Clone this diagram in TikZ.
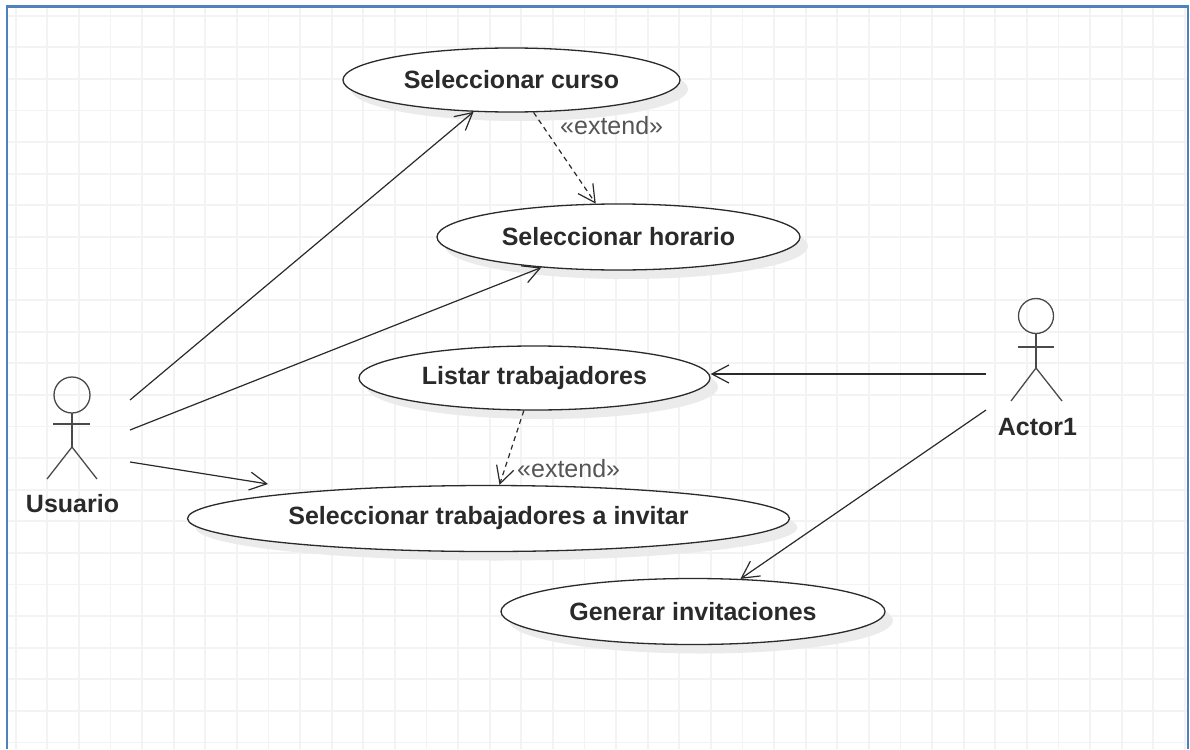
\documentclass[tikz,border=0pt]{standalone}
\usepackage{fontspec}
\setmainfont{Liberation Sans}
\usetikzlibrary{shapes.geometric,arrows.meta,shadows}
\definecolor{gridc}{HTML}{F3F3F3}
\definecolor{framec}{HTML}{4F81BD}
\definecolor{ink}{HTML}{2A2A2A}
\definecolor{shadowc}{HTML}{EBEBEB}
\definecolor{labelc}{HTML}{555555}
\begin{document}
\begin{tikzpicture}[x=1pt,y=-1pt,
  usecase/.style={ellipse, draw=ink, line width=1.3pt, fill=white, inner sep=0pt,
    font=\fontsize{25}{30}\selectfont\bfseries, text=ink,
    general shadow={shadow xshift=8pt, shadow yshift=-9pt, fill=shadowc}},
  actorlabel/.style={font=\fontsize{25}{30}\selectfont\bfseries, text=ink, inner sep=0pt},
  stereo/.style={font=\fontsize{25}{30}\selectfont, text=labelc, inner sep=0pt, anchor=base west},
  actorline/.style={draw=ink!85, line width=1.3pt},
  assoc/.style={draw=ink, line width=1.2pt, -{Straight Barb[length=17pt,width=18pt,line width=1.2pt]}},
  extendline/.style={assoc, dash pattern=on 5pt off 4pt}]
\useasboundingbox (0,0) rectangle (1190,749);
\fill[white] (0,0) rectangle (1190,749);

% background grid
\foreach \i in {0,...,37}
  \draw[gridc, line width=1.8pt] ({15.7+31.6*\i},7) -- ({15.7+31.6*\i},749);
\foreach \j in {0,...,23}
  \draw[gridc, line width=1.8pt] (8,{15.7+31.6*\j}) -- (1187,{15.7+31.6*\j});

% frame
\draw[framec, line width=2.2pt] (7,749) -- (7,6.5) -- (1188,6.5) -- (1188,749);

% use cases
\node[usecase, minimum width=337pt, minimum height=64pt] (curso)   at (511.5,80)    {Seleccionar curso};
\node[usecase, minimum width=363pt, minimum height=66pt] (horario) at (618.5,237)   {Seleccionar horario};
\node[usecase, minimum width=351pt, minimum height=64pt] (listar)  at (534.5,378)   {Listar trabajadores};
\node[usecase, minimum width=602pt, minimum height=66pt] (invitar) at (488.5,518.5) {Seleccionar trabajadores a invitar};
\node[usecase, minimum width=384pt, minimum height=66pt] (generar) at (693,611.5)   {Generar invitaciones};

% actor Usuario
\draw[actorline] (72,395) circle (18);
\draw[actorline] (72,413) -- (72,447);
\draw[actorline] (53,424) -- (90,424);
\draw[actorline] (47,479) -- (72,447) -- (97,479);
\node[actorlabel] (usuario) at (72.5,504) {Usuario};

% actor Actor1
\draw[actorline] (1036,316) circle (17.5);
\draw[actorline] (1036,333.5) -- (1036,368);
\draw[actorline] (1018,347) -- (1054,347);
\draw[actorline] (1011,401) -- (1036,368) -- (1062,401);
\node[actorlabel] (actor) at (1037.5,427) {Actor1};

% connector ends at the actors
\coordinate (u1) at (130,400);
\coordinate (u2) at (130,430);
\coordinate (u3) at (130,462);
\coordinate (a1) at (986,374);
\coordinate (a2) at (986,410);
% end of the Usuario association above the wide ellipse
\coordinate (i1) at (268,484);

% associations
\draw[assoc] (u1) -- (curso);
\draw[assoc] (u2) -- (horario);
\draw[assoc] (u3) -- (i1);
\draw[assoc] (a1) -- (a1 -| listar.east);
\draw[assoc] (a2) -- (generar);

% extend relations
\draw[extendline] (curso) -- (horario);
\draw[extendline] (listar) -- (invitar);
\node[stereo] (ext1) at (560,135) {«extend»};
\node[stereo] (ext2) at (517,477) {«extend»};
\end{tikzpicture}
\end{document}
